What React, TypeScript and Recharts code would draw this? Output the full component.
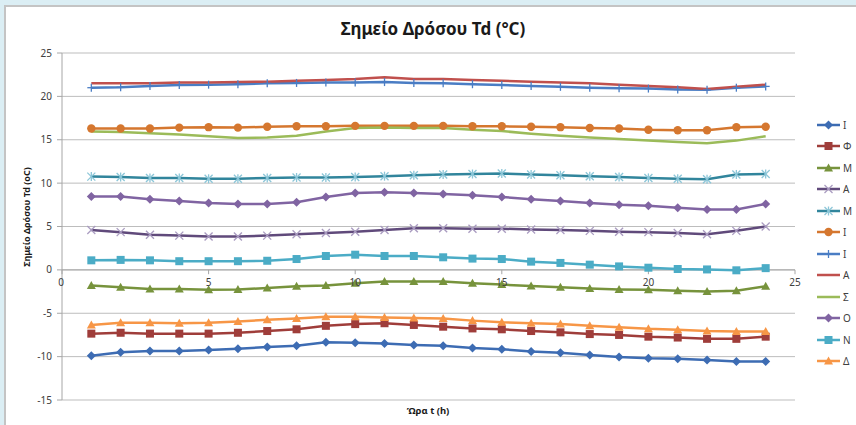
import { LineChart, Line, XAxis, YAxis, CartesianGrid, ReferenceLine, ReferenceDot } from 'recharts'

// hour of day (x) and dew point Td in °C for each station
const HOURS = [1, 2, 3, 4, 5, 6, 7, 8, 9, 10, 11, 12, 13, 14, 15, 16, 17, 18, 19, 20, 21, 22, 23, 24]

const I_1 = [-9.9, -9.5, -9.35, -9.35, -9.25, -9.1, -8.9, -8.75, -8.35, -8.4, -8.5, -8.65, -8.75, -9.0, -9.15, -9.4, -9.55, -9.8, -10.05, -10.2, -10.25, -10.4, -10.55, -10.55]
const PHI = [-7.35, -7.25, -7.35, -7.35, -7.35, -7.25, -7.05, -6.85, -6.45, -6.25, -6.15, -6.35, -6.55, -6.75, -6.85, -7.05, -7.2, -7.4, -7.5, -7.7, -7.8, -7.95, -7.95, -7.7]
const M_1 = [-1.8, -2.0, -2.2, -2.2, -2.3, -2.25, -2.1, -1.9, -1.8, -1.55, -1.35, -1.35, -1.35, -1.55, -1.7, -1.85, -2.0, -2.15, -2.25, -2.3, -2.4, -2.5, -2.4, -1.9]
const A_1 = [4.6, 4.35, 4.05, 3.95, 3.85, 3.85, 3.95, 4.1, 4.25, 4.4, 4.6, 4.8, 4.8, 4.75, 4.75, 4.65, 4.6, 4.5, 4.4, 4.35, 4.25, 4.1, 4.5, 5.0]
const M_2 = [10.75, 10.7, 10.6, 10.6, 10.5, 10.5, 10.6, 10.65, 10.65, 10.7, 10.8, 10.9, 11.0, 11.05, 11.1, 11.0, 10.9, 10.8, 10.7, 10.6, 10.5, 10.45, 11.0, 11.05]
const I_2 = [16.3, 16.3, 16.3, 16.4, 16.45, 16.4, 16.5, 16.55, 16.55, 16.6, 16.6, 16.6, 16.6, 16.55, 16.55, 16.5, 16.45, 16.35, 16.3, 16.15, 16.1, 16.1, 16.45, 16.5]
const I_3 = [21.0, 21.05, 21.2, 21.3, 21.35, 21.4, 21.5, 21.55, 21.6, 21.6, 21.65, 21.55, 21.5, 21.4, 21.3, 21.2, 21.1, 21.0, 20.95, 20.9, 20.8, 20.75, 21.0, 21.15]
const A_2 = [21.5, 21.5, 21.5, 21.6, 21.6, 21.65, 21.7, 21.8, 21.9, 22.0, 22.2, 22.0, 22.0, 21.9, 21.8, 21.7, 21.6, 21.5, 21.35, 21.2, 21.05, 20.85, 21.1, 21.35]
const SIGMA = [15.95, 15.9, 15.75, 15.6, 15.4, 15.2, 15.25, 15.45, 15.95, 16.35, 16.4, 16.35, 16.35, 16.15, 16.0, 15.7, 15.45, 15.25, 15.1, 14.9, 14.75, 14.6, 14.9, 15.4]
const O_1 = [8.45, 8.45, 8.15, 7.95, 7.7, 7.6, 7.6, 7.8, 8.4, 8.85, 8.95, 8.85, 8.75, 8.6, 8.4, 8.15, 7.95, 7.7, 7.5, 7.4, 7.15, 6.95, 6.95, 7.6]
const N_1 = [1.1, 1.15, 1.1, 1.0, 1.0, 1.0, 1.05, 1.25, 1.6, 1.75, 1.6, 1.6, 1.45, 1.3, 1.25, 0.95, 0.8, 0.6, 0.4, 0.25, 0.1, 0.05, -0.05, 0.2]
const DELTA = [-6.35, -6.1, -6.1, -6.15, -6.1, -5.95, -5.75, -5.6, -5.4, -5.4, -5.5, -5.55, -5.6, -5.85, -6.05, -6.15, -6.25, -6.45, -6.6, -6.8, -6.9, -7.05, -7.1, -7.1]

const X_TICKS = [0, 5, 10, 15, 20, 25]
const Y_TICKS = [-15, -10, -5, 0, 5, 10, 15, 20, 25]

type Kind = 'diamond' | 'square' | 'triangle' | 'x' | 'star' | 'circle' | 'plus' | 'none'

const SERIES: { key: string; name: string; values: number[]; color: string; kind: Kind; markColor?: string }[] = [
  { key: 's0', name: 'Ι', values: I_1, color: '#3d6cb3', kind: 'diamond' },
  { key: 's1', name: 'Φ', values: PHI, color: '#9f3d3a', kind: 'square' },
  { key: 's2', name: 'Μ', values: M_1, color: '#77933c', kind: 'triangle' },
  { key: 's3', name: 'Α', values: A_1, color: '#604a7b', kind: 'x', markColor: '#a99bc0' },
  { key: 's4', name: 'Μ', values: M_2, color: '#31859c', kind: 'star', markColor: '#8cc6d8' },
  { key: 's5', name: 'Ι', values: I_2, color: '#d5772f', kind: 'circle' },
  { key: 's6', name: 'Ι', values: I_3, color: '#4a7dc4', kind: 'plus' },
  { key: 's7', name: 'Α', values: A_2, color: '#c0504d', kind: 'none' },
  { key: 's8', name: 'Σ', values: SIGMA, color: '#9bbb59', kind: 'none' },
  { key: 's9', name: 'Ο', values: O_1, color: '#8064a2', kind: 'diamond' },
  { key: 's10', name: 'Ν', values: N_1, color: '#4bacc6', kind: 'square' },
  { key: 's11', name: 'Δ', values: DELTA, color: '#f79646', kind: 'triangle' },
]

const data = HOURS.map((h, i) => {
  const row: Record<string, number> = { hour: h }
  SERIES.forEach(s => { row[s.key] = s.values[i] })
  return row
})

const FONT = '"Noto Sans", sans-serif'

function Marker({ cx, cy, kind, color, markColor }: { cx: number; cy: number; kind: Kind; color: string; markColor?: string }) {
  const mc = markColor || color
  switch (kind) {
    case 'diamond':
      return <polygon points={`${cx},${cy - 4.5} ${cx + 4.5},${cy} ${cx},${cy + 4.5} ${cx - 4.5},${cy}`} fill={color} />
    case 'square':
      return <rect x={cx - 4} y={cy - 4} width={8} height={8} fill={color} />
    case 'triangle':
      return <polygon points={`${cx},${cy - 4.5} ${cx + 4.5},${cy + 3.5} ${cx - 4.5},${cy + 3.5}`} fill={color} />
    case 'circle':
      return <circle cx={cx} cy={cy} r={4.2} fill={color} />
    case 'x':
      return (
        <g stroke={mc} strokeWidth={1.3}>
          <line x1={cx - 4} y1={cy - 4} x2={cx + 4} y2={cy + 4} />
          <line x1={cx - 4} y1={cy + 4} x2={cx + 4} y2={cy - 4} />
        </g>
      )
    case 'star':
      return (
        <g stroke={mc} strokeWidth={1.3}>
          <line x1={cx - 4} y1={cy - 4} x2={cx + 4} y2={cy + 4} />
          <line x1={cx - 4} y1={cy + 4} x2={cx + 4} y2={cy - 4} />
          <line x1={cx} y1={cy - 4.5} x2={cx} y2={cy + 4.5} />
        </g>
      )
    case 'plus':
      return (
        <g stroke={mc} strokeWidth={1.3}>
          <line x1={cx} y1={cy - 4} x2={cx} y2={cy + 4} />
          <line x1={cx - 4} y1={cy} x2={cx + 4} y2={cy} />
        </g>
      )
    default:
      return null
  }
}

export default function App() {
  return (
    <div style={{ position: 'fixed', left: 0, top: 0, width: 856, height: 425, background: '#dbeef4', fontFamily: FONT, overflow: 'hidden' }}>
      <div style={{ position: 'absolute', left: 4, top: 5, right: -4, bottom: -4, background: '#fff', borderLeft: '2px solid #c4c4c4', borderTop: '2px solid #c4c4c4' }} />

      <div style={{ position: 'absolute', left: 0, width: 866, top: 17, textAlign: 'center', fontSize: 17, fontWeight: 700, color: '#1a1a1a' }}>
        Σημείο Δρόσου Td (°C)
      </div>

      <LineChart width={856} height={425} data={data} margin={{ top: 53, right: 61, bottom: 25, left: 0 }} style={{ position: 'absolute', left: 0, top: 0 }}>
        <CartesianGrid vertical={false} stroke="#bdbdbd" />
        <XAxis type="number" dataKey="hour" domain={[0, 25]} ticks={X_TICKS} hide />
        <YAxis
          width={62}
          domain={[-15, 25]}
          ticks={Y_TICKS}
          interval={0}
          stroke="#a6a6a6"
          tickSize={5}
          tickMargin={5}
          tick={{ fill: '#404040', fontSize: 10, fontFamily: FONT }}
        />
        <ReferenceLine y={0} stroke="#a6a6a6" />
        {X_TICKS.map(t => (
          <ReferenceLine key={`tk${t}`} segment={[{ x: t, y: 0 }, { x: t, y: -0.5 }]} stroke="#a6a6a6" />
        ))}
        {X_TICKS.map(t => (
          <ReferenceDot
            key={`lb${t}`}
            x={t}
            y={0}
            r={0}
            stroke="none"
            fill="none"
            label={{ value: String(t), position: 'bottom', offset: 9, fill: '#404040', fontSize: 10, fontFamily: FONT, dx: t === 0 ? -1 : 0 }}
          />
        ))}
        {SERIES.map(s => (
          <Line
            key={s.key}
            type="linear"
            dataKey={s.key}
            name={s.name}
            stroke={s.color}
            strokeWidth={2.5}
            isAnimationActive={false}
            activeDot={false}
            dot={(p: any) => <Marker key={`${s.key}-${p.index}`} cx={p.cx} cy={p.cy} kind={s.kind} color={s.color} markColor={s.markColor} />}
          />
        ))}
      </LineChart>

      <div style={{ position: 'absolute', left: 26, top: 217, width: 0, height: 0 }}>
        <div style={{ position: 'absolute', transform: 'translate(-50%, -50%) rotate(-90deg)', whiteSpace: 'nowrap', fontSize: 9, fontWeight: 700, color: '#1a1a1a' }}>
          Σημείο Δρόσου Td (oC)
        </div>
      </div>

      <div style={{ position: 'absolute', left: 0, width: 856, top: 404, textAlign: 'center', fontSize: 9.5, fontWeight: 700, color: '#1a1a1a' }}>
        Ώρα t (h)
      </div>

      <div style={{ position: 'absolute', left: 816, top: 114 }}>
        {SERIES.map(s => (
          <div key={s.key} style={{ height: 21.5, display: 'flex', alignItems: 'center', fontSize: 10, color: '#404040' }}>
            <svg width={25} height={12} style={{ marginRight: 2 }}>
              <line x1={1} y1={6} x2={24} y2={6} stroke={s.color} strokeWidth={2.5} />
              <Marker cx={12.5} cy={6} kind={s.kind} color={s.color} markColor={s.markColor} />
            </svg>
            {s.name}
          </div>
        ))}
      </div>
    </div>
  )
}
